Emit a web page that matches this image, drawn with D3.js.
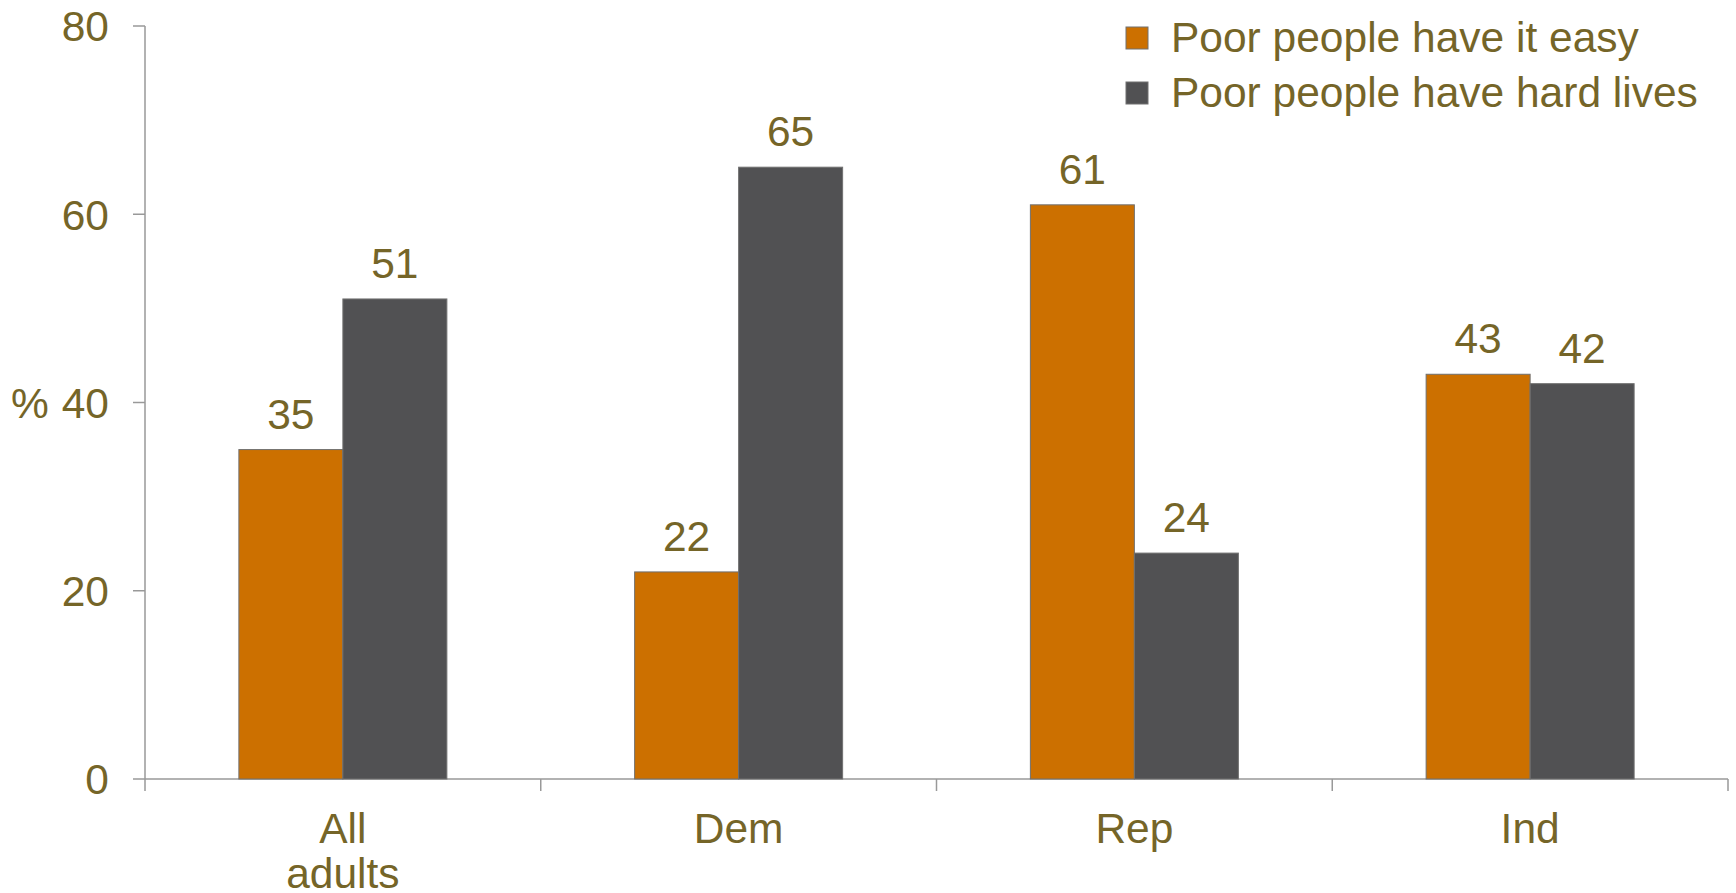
<!DOCTYPE html>
<html>
<head>
<meta charset="utf-8">
<script src="https://cdn.jsdelivr.net/npm/d3@7"></script>
<style>
  html, body { margin: 0; padding: 0; background: #fff; }
  svg { display: block; }
  text { font-family: "Liberation Sans", Arial, sans-serif; fill: #756528; }
</style>
</head>
<body>
<svg id="chart" width="1736" height="893"></svg>
<script>
const categories = ["All adults", "Dem", "Rep", "Ind"];
const seriesNames = ["Poor people have it easy", "Poor people have hard lives"];
const easyValues = [35, 22, 61, 43];
const hardValues = [51, 65, 24, 42];
const yTicks = [0, 20, 40, 60, 80];
const colors = ["#CC7000", "#515153"];

(function () {
const svg = d3.select("#chart");
const mLeft = 145, mRight = 1728, mTop = 26, mBottom = 779;
const fontSize = 42.5;
const axisColor = "#999999";

const x = d3.scaleBand().domain(categories).range([mLeft, mRight]).paddingInner(0).paddingOuter(0);
const y = d3.scaleLinear().domain([0, 80]).range([mBottom, mTop]);
const barW = 104;
const xs = d3.scaleBand().domain([0, 1]).range([0, barW * 2]).padding(0);

// Y axis
svg.append("line").attr("x1", mLeft).attr("x2", mLeft).attr("y1", y(80)).attr("y2", mBottom)
  .attr("stroke", axisColor).attr("stroke-width", 1.5);
yTicks.forEach(t => {
  svg.append("line").attr("x1", mLeft - 12).attr("x2", mLeft).attr("y1", y(t)).attr("y2", y(t))
    .attr("stroke", axisColor).attr("stroke-width", 1.5);
  svg.append("text").attr("x", 109).attr("y", y(t)).attr("dy", "0.36em")
    .attr("text-anchor", "end").attr("font-size", fontSize).text(t);
});
svg.append("text").attr("x", 11).attr("y", y(40)).attr("dy", "0.36em")
  .attr("font-size", fontSize).text("%");

// X axis
svg.append("line").attr("x1", mLeft).attr("x2", mRight).attr("y1", mBottom).attr("y2", mBottom)
  .attr("stroke", axisColor).attr("stroke-width", 1.5);
const boundaries = categories.map(c => x(c)).concat([x(categories[categories.length - 1]) + x.bandwidth()]);
boundaries.forEach(b => {
  svg.append("line").attr("x1", b).attr("x2", b).attr("y1", mBottom).attr("y2", mBottom + 12)
    .attr("stroke", axisColor).attr("stroke-width", 1.5);
});

// Bars
const seriesData = [easyValues, hardValues];
categories.forEach((c, i) => {
  const gx = x(c) + x.bandwidth() / 2 - barW;
  seriesData.forEach((vals, s) => {
    const v = vals[i];
    const bx = gx + xs(s);
    svg.append("rect").attr("x", bx).attr("y", y(v)).attr("width", xs.bandwidth())
      .attr("height", mBottom - y(v)).attr("fill", colors[s])
      .attr("stroke", "#707070").attr("stroke-width", 1);
    svg.append("text").attr("x", bx + xs.bandwidth() / 2).attr("y", y(v) - 21)
      .attr("text-anchor", "middle").attr("font-size", fontSize).text(v);
  });
  const lines = c === "All adults" ? ["All", "adults"] : [c];
  lines.forEach((ln, k) => {
    svg.append("text").attr("x", x(c) + x.bandwidth() / 2).attr("y", 843 + k * 45)
      .attr("text-anchor", "middle").attr("font-size", fontSize).text(ln);
  });
});

// Legend
seriesNames.forEach((n, i) => {
  svg.append("rect").attr("x", 1126).attr("y", 27 + i * 55).attr("width", 22).attr("height", 22)
    .attr("fill", colors[i]).attr("stroke", "#707070").attr("stroke-width", 1);
  svg.append("text").attr("x", 1171).attr("y", 52 + i * 55)
    .attr("font-size", fontSize).text(n);
});
})();
</script>
</body>
</html>
